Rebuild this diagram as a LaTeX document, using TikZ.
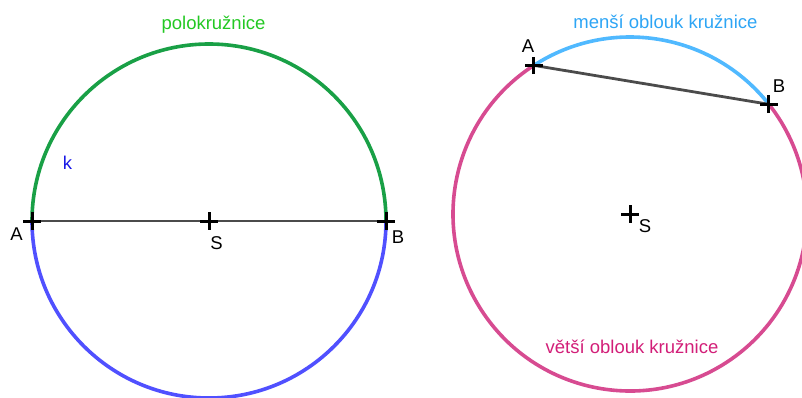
\documentclass[tikz,border=0pt]{standalone}
\usepackage{fontspec}
\setmainfont{Liberation Sans}
\usetikzlibrary{shapes.misc, calc}

\definecolor{arcgreen}{RGB}{25,160,70}
\definecolor{arcblue}{RGB}{80,80,255}
\definecolor{arccyan}{RGB}{80,185,255}
\definecolor{arcpink}{RGB}{215,75,145}
\definecolor{txtgreen}{RGB}{35,200,35}
\definecolor{txtblue}{RGB}{25,25,230}
\definecolor{txtcyan}{RGB}{45,165,245}
\definecolor{txtpink}{RGB}{210,30,120}
\definecolor{chordgray}{RGB}{75,75,75}

\tikzset{
    arcline/.style={line width=3.6pt},
    chord/.style={chordgray, line width=2.8pt},
    pnt/.style={draw=black, cross out, rotate=45, minimum size=9.5pt, inner sep=0pt, line width=3pt},
    lbl/.style={anchor=base, inner sep=0pt, font=\fontsize{18.5}{22}\selectfont}
}

\begin{document}
\begin{tikzpicture}[x=1pt, y=1pt]
    \useasboundingbox (0, 0) rectangle (802, 397);

    % half circles
    \coordinate (A1) at (32, 176);
    \coordinate (B1) at (386, 176);
    \coordinate (S1) at (209, 176);
    \draw[arcline, arcgreen] (B1) arc (0:180:177);
    \draw[arcline, arcblue] (A1) arc (180:360:177);
    \draw[chord] (A1) -- (B1);

    % arcs cut by a chord
    \coordinate (S2) at (630, 183);
    \coordinate (A2) at ($(S2) + (122.9:177)$);
    \coordinate (B2) at ($(S2) + (38.3:177)$);
    \draw[arcline, arccyan] (B2) arc (38.3:122.9:177);
    \draw[arcline, arcpink] (A2) arc (122.9:398.3:177);
    \draw[chord] (A2) -- (B2);

    \node[pnt] (pA1) at (A1) {};
    \node[pnt] (pB1) at (B1) {};
    \node[pnt] (pS1) at (S1) {};
    \node[pnt] (pA2) at (A2) {};
    \node[pnt] (pB2) at (B2) {};
    \node[pnt] (pS2) at (S2) {};

    \node[lbl] (lA1) at (16.5, 157) {A};
    \node[lbl] (lB1) at (398, 154) {B};
    \node[lbl] (lS1) at (216.5, 148) {S};
    \node[lbl, txtblue] (lk) at (67.5, 228) {k};
    \node[lbl, txtgreen] (lhalf) at (213.5, 367) {polokružnice};

    \node[lbl] (lA2) at (528, 344) {A};
    \node[lbl] (lB2) at (779, 305) {B};
    \node[lbl] (lS2) at (645, 165) {S};
    \node[lbl, txtcyan] (lminor) at (665.4, 368) {menší oblouk kružnice};
    \node[lbl, txtpink] (lmajor) at (632, 43.7) {větší oblouk kružnice};
\end{tikzpicture}
\end{document}
